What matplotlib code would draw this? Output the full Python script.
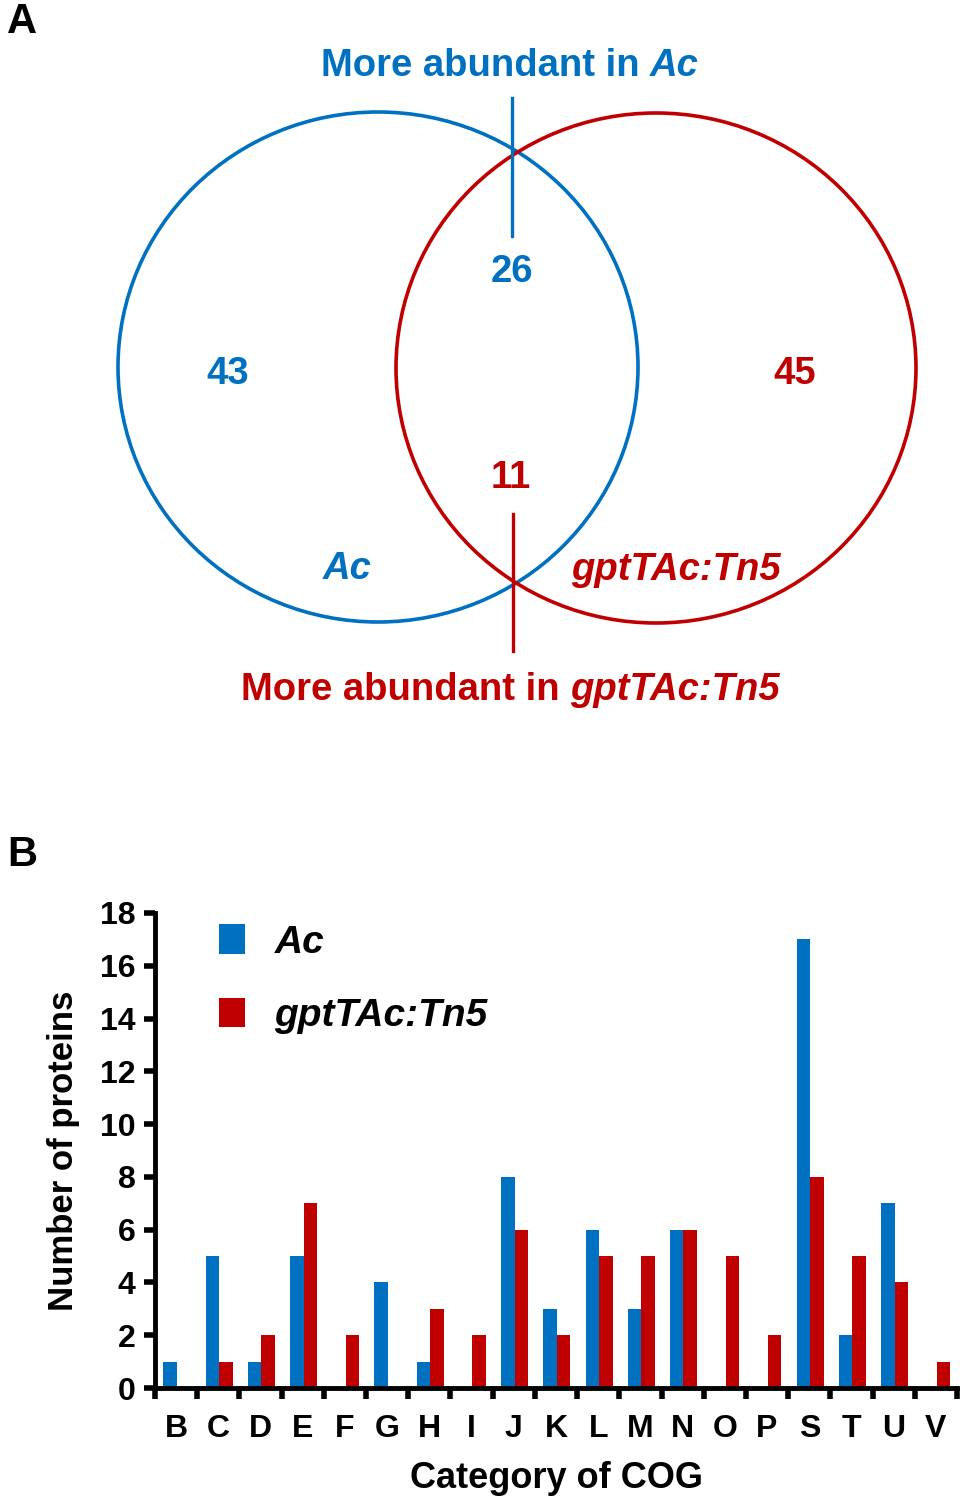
import matplotlib
matplotlib.use("Agg")
import numpy as np
import matplotlib.pyplot as plt
from matplotlib.patches import Ellipse

plt.rcParams["font.family"] = ["Liberation Sans", "DejaVu Sans"]
plt.rcParams["font.weight"] = "bold"
plt.rcParams["axes.labelweight"] = "bold"

BLUE = "#0070C0"
RED = "#C00000"

# Venn counts
only_ac = 43
only_gpt = 45
up_ac = 26
up_gpt = 11

# COG categories
categories = ["B", "C", "D", "E", "F", "G", "H", "I", "J", "K",
              "L", "M", "N", "O", "P", "S", "T", "U", "V"]
ac_counts = [1, 5, 1, 5, 0, 4, 1, 0, 8, 3, 6, 3, 6, 0, 0, 17, 2, 7, 0]
gpt_counts = [0, 1, 2, 7, 2, 0, 3, 2, 6, 2, 5, 5, 6, 5, 2, 8, 5, 4, 1]
yticks = [0, 2, 4, 6, 8, 10, 12, 14, 16, 18]

W, H = 964, 1503
fig = plt.figure(figsize=(W / 100, H / 100), dpi=100)
renderer = fig.canvas.get_renderer()


def mixed_title(ax, xc, y, plain, ital, color, size):
    # plain + italic text, centred as one line
    t1 = ax.text(0, y, plain, color=color, fontsize=size, ha="left", va="center")
    t2 = ax.text(0, y, ital, color=color, fontsize=size, style="italic",
                 ha="left", va="center")
    w1 = t1.get_window_extent(renderer).width
    w2 = t2.get_window_extent(renderer).width
    x0 = xc - (w1 + w2) / 2
    t1.set_x(x0)
    t2.set_x(x0 + w1)


# ---- panel A: Venn, drawn in pixel space ----
va = fig.add_axes([0, 0, 1, 1])
va.set_xlim(0, W)
va.set_ylim(H, 0)
va.axis("off")

va.add_patch(Ellipse((378, 367), 520, 510, fill=False, ec=BLUE, lw=2.6))
va.add_patch(Ellipse((656, 368), 520, 510, fill=False, ec=RED, lw=2.6))
va.plot([512, 512], [98, 236], color=BLUE, lw=2.4)
va.plot([513, 513], [514, 651], color=RED, lw=2.4)

va.text(22, 22, "A", fontsize=30, ha="center", va="center")
va.text(22, 855, "B", fontsize=30, ha="center", va="center")

fs = 27.5
mixed_title(va, 510, 66, "More abundant in ", "Ac", BLUE, fs)
mixed_title(va, 510, 690, "More abundant in ", "gptTAc:Tn5", RED, fs)
va.text(512, 272, str(up_ac), color=BLUE, fontsize=fs, ha="center", va="center")
va.text(228, 374, str(only_ac), color=BLUE, fontsize=fs, ha="center", va="center")
va.text(795, 374, str(only_gpt), color=RED, fontsize=fs, ha="center", va="center")
va.text(511, 478, str(up_gpt), color=RED, fontsize=fs, ha="center", va="center")
va.text(347, 569, "Ac", color=BLUE, fontsize=fs, style="italic",
        ha="center", va="center")
va.text(676, 570, "gptTAc:Tn5", color=RED, fontsize=fs, style="italic",
        ha="center", va="center")

# ---- panel B: bars ----
left, right, top, bottom = 155, 957, 913, 1388
ax = fig.add_axes([left / W, (H - bottom) / H, (right - left) / W, (bottom - top) / H])

x = np.arange(len(categories))
bw = 0.32
ax.bar(x - bw / 2 + 0.02, ac_counts, width=bw, color=BLUE, label="Ac")
ax.bar(x + bw / 2 + 0.02, gpt_counts, width=bw, color=RED, label="gptTAc:Tn5")

ax.set_xlim(-0.5, len(categories) - 0.5)
ax.set_ylim(0, 18)
ax.set_yticks(yticks)
ax.set_xticks(x)
ax.set_xticklabels(categories)
ax.set_xticks(np.arange(-0.5, len(categories), 1), minor=True)
ax.tick_params(axis="x", which="major", length=0, pad=19, labelsize=23)
ax.tick_params(axis="x", which="minor", length=8, width=4, direction="out")
ax.tick_params(axis="y", length=8, width=4, direction="out", labelsize=23, pad=6)

for s in ["top", "right"]:
    ax.spines[s].set_visible(False)
for s in ["left", "bottom"]:
    ax.spines[s].set_linewidth(3.5)

ax.set_ylabel("Number of proteins", fontsize=25, labelpad=14)
ax.set_xlabel("Category of COG", fontsize=26, labelpad=12)

ax.legend(loc="upper left", bbox_to_anchor=(0.036, 1.05), frameon=False,
          handlelength=0.68, handleheight=0.8, handletextpad=0.75,
          labelspacing=0.95,
          prop={"style": "italic", "weight": "bold", "size": 28})

fig.savefig("out.png", dpi=100)
